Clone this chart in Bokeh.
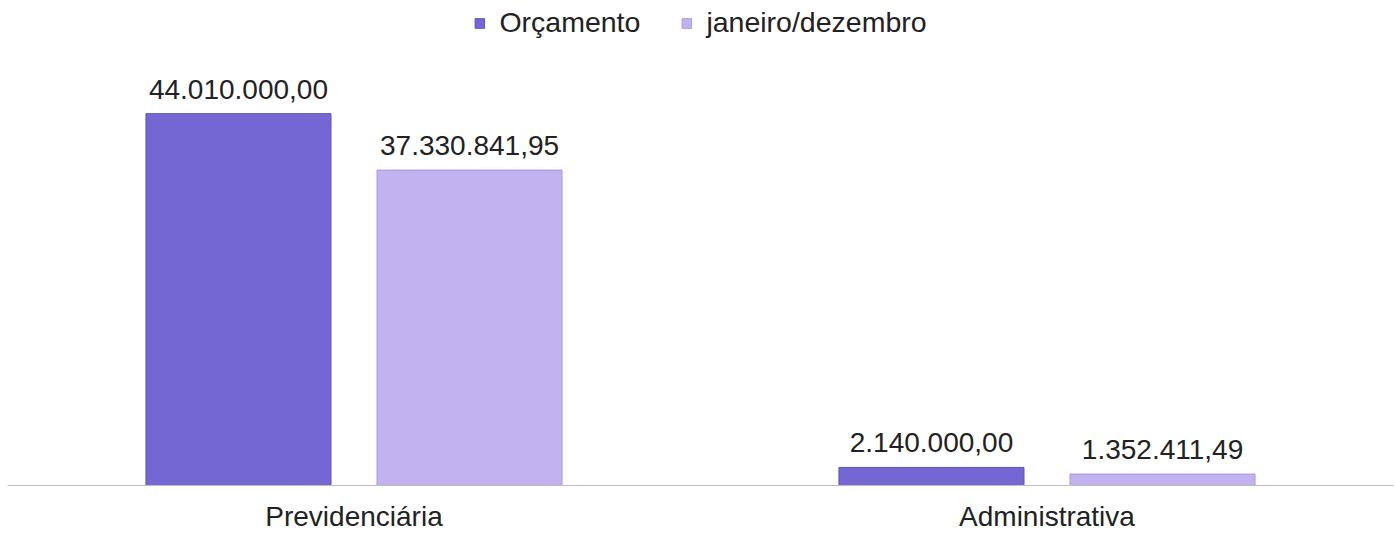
from bokeh.plotting import figure
from bokeh.models import ColumnDataSource, Range1d, FactorRange, Legend, LegendItem
from bokeh.transform import dodge
from bokeh.core.properties import value
from bokeh.embed import file_html
from bokeh.resources import INLINE

categories = ["Previdenciária", "Administrativa"]
series_names = ["Orçamento", "janeiro/dezembro"]
orcamento = [44010000.00, 2140000.00]
jan_dez = [37330841.95, 1352411.49]
colors = ["#7467D4", "#C3B2F0"]
edge_colors = ["#5C50C0", "#A898E0"]


def br_fmt(v):
    s = f"{v:,.2f}"
    return s.replace(",", "X").replace(".", ",").replace("X", ".")


src = ColumnDataSource(data=dict(
    cat=categories,
    orc=orcamento,
    jan=jan_dez,
    orc_lbl=[br_fmt(v) for v in orcamento],
    jan_lbl=[br_fmt(v) for v in jan_dez],
))

FONT = "Liberation Sans"

p = figure(
    x_range=FactorRange(*categories),
    y_range=Range1d(0, 57400000),
    width=1395, height=534,
    output_backend="svg", toolbar_location=None,
    min_border_top=0, min_border_left=7, min_border_right=2, min_border_bottom=0,
)

offset = 0.1667
bw = 0.267
r1 = p.vbar(x=dodge("cat", -offset, range=p.x_range), top="orc", width=bw, source=src,
            fill_color=colors[0], line_color=edge_colors[0], line_width=1)
r2 = p.vbar(x=dodge("cat", offset, range=p.x_range), top="jan", width=bw, source=src,
            fill_color=colors[1], line_color=edge_colors[1], line_width=1)

p.text(x=dodge("cat", -offset, range=p.x_range), y="orc", text="orc_lbl", source=src,
       text_align="center", text_baseline="bottom", y_offset=-15,
       text_font=value(FONT), text_font_size="28px", text_color="#222222")
p.text(x=dodge("cat", offset, range=p.x_range), y="jan", text="jan_lbl", source=src,
       text_align="center", text_baseline="bottom", y_offset=-15,
       text_font=value(FONT), text_font_size="28px", text_color="#222222")

legend = Legend(items=[LegendItem(label=series_names[0], renderers=[r1]),
                       LegendItem(label=series_names[1], renderers=[r2])],
                location="top_center", orientation="horizontal")
legend.margin = 6
legend.padding = 0
legend.spacing = 40
legend.glyph_width = 12
legend.glyph_height = 12
legend.label_standoff = 14
legend.label_text_font = FONT
legend.label_text_font_size = "28.5px"
legend.label_text_color = "#222222"
legend.border_line_color = None
legend.background_fill_alpha = 0
p.add_layout(legend, "center")

p.yaxis.visible = False
p.xgrid.grid_line_color = None
p.ygrid.grid_line_color = None
p.outline_line_color = None
p.xaxis.axis_line_color = "#BDBDBD"
p.xaxis.axis_line_width = 1
p.xaxis.major_tick_line_color = None
p.xaxis.minor_tick_line_color = None
p.xaxis.major_tick_out = 0
p.xaxis.major_tick_in = 0
p.xaxis.minor_tick_out = 0
p.xaxis.major_label_standoff = 15
p.xaxis.major_label_text_font = FONT
p.xaxis.major_label_text_font_size = "28px"
p.xaxis.major_label_text_color = "#222222"
p.x_range.range_padding = 0

open("out.html", "w").write(file_html(p, INLINE))
